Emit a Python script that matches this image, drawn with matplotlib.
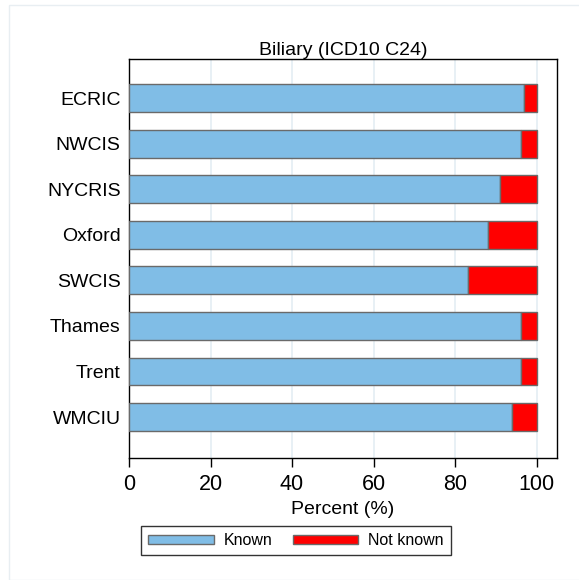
import matplotlib
matplotlib.use("Agg")
import matplotlib.pyplot as plt
from matplotlib.patches import Rectangle, Patch
import numpy as np

registries = ["ECRIC", "NWCIS", "NYCRIS", "Oxford", "SWCIS", "Thames", "Trent", "WMCIU"]
known = [97.0, 96.1, 91.1, 88.0, 83.1, 96.1, 96.1, 93.9]
not_known = [100 - k for k in known]

W, H = 579, 580
plt.rcParams['font.family'] = ['Liberation Sans', 'DejaVu Sans']

fig = plt.figure(figsize=(W / 100, H / 100), dpi=100)
fig.patch.set_facecolor("white")

# faint outer frame (left/top edges visible in the reference)
fig.patches.append(Rectangle((9 / W, 0), 1.0, 1 - 5 / H, transform=fig.transFigure,
                             fill=False, edgecolor="#e8eef2", linewidth=1.0))

# axes box in pixels: left 129, right 557, top 59, bottom 458
ax = fig.add_axes([129 / W, 1 - 458 / H, (557 - 129) / W, (458 - 59) / H])

y = np.arange(len(registries))
ax.barh(y, known, height=0.61, color="#80bde6", edgecolor="#6a6a6a", linewidth=1.0,
        label="Known", zorder=3)
ax.barh(y, not_known, left=known, height=0.61, color="#ff0000", edgecolor="#6a6a6a",
        linewidth=1.0, label="Not known", zorder=3)

ax.set_xlim(0, 105)
ax.set_ylim(len(registries) - 1 + 0.9, -0.86)
ax.set_xticks([0, 20, 40, 60, 80, 100])
ax.set_yticks(y)
ax.set_yticklabels(registries, fontsize=14)
ax.tick_params(axis="x", labelsize=15.5, length=6.5, width=1, pad=5)
ax.tick_params(axis="y", length=0, pad=6)
ax.grid(axis="x", color="#e4eef4", linewidth=1.2, zorder=0)
ax.set_axisbelow(True)
for s in ax.spines.values():
    s.set_linewidth(1.0)
    s.set_color("black")

ax.set_title("Biliary (ICD10 C24)", fontsize=14, pad=3)
ax.set_xlabel("Percent (%)", fontsize=14, labelpad=4)

handles = [Patch(facecolor="#80bde6", edgecolor="#6a6a6a", label="Known"),
           Patch(facecolor="#ff0000", edgecolor="#6a6a6a", label="Not known")]
leg = fig.legend(handles=handles, loc="center", bbox_to_anchor=(296 / W, 1 - 540.5 / H),
                 ncol=2, frameon=True, fancybox=False, edgecolor="black", fontsize=11.5,
                 handlelength=4.1, handleheight=0.5, columnspacing=1.25, handletextpad=0.63,
                 borderpad=0.45, borderaxespad=0)
leg.get_frame().set_linewidth(1.0)

fig.savefig("out.png", dpi=100)
